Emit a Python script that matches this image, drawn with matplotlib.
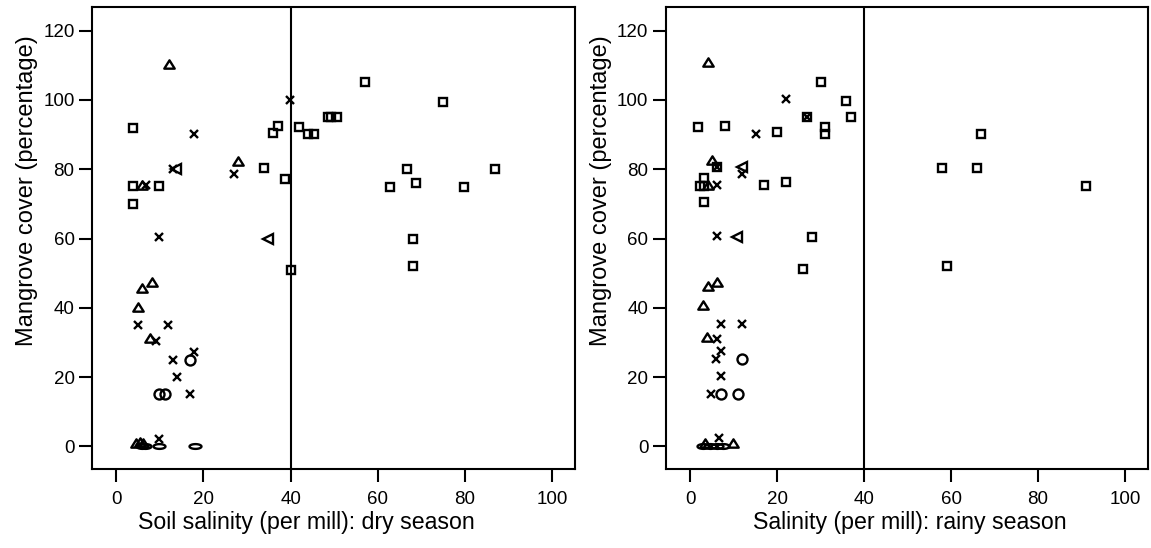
import numpy as np
import matplotlib
matplotlib.use("Agg")
from matplotlib import pyplot as plt
from matplotlib.path import Path

plt.rcParams['font.family'] = ['Liberation Sans', 'DejaVu Sans']

# ---- dry season (soil salinity) ----
dry_sq_x = [3.8, 35.9, 37.1, 41.9, 44.0, 45.3, 48.7, 49.3, 50.6, 33.9, 38.8, 3.8, 9.8, 3.8,
            40.0, 57.0, 75.0, 66.8, 86.9, 62.8, 68.9, 79.9, 68.0, 68.0]
dry_sq_y = [92.0, 90.5, 92.5, 92.1, 90.1, 90.1, 95.0, 95.0, 95.0, 80.5, 77.1, 75.2, 75.2, 70.0,
            50.9, 105.1, 99.5, 80.0, 80.0, 75.0, 76.1, 75.0, 60.0, 52.1]
dry_tri_x = [12.0, 28.0, 6.0, 6.0, 8.1, 5.0, 7.7, 4.6, 5.4, 6.1]
dry_tri_y = [110.4, 82.4, 75.4, 45.8, 47.4, 40.2, 31.2, 1.1, 1.3, 1.0]
dry_x_x = [17.9, 39.8, 26.9, 12.9, 6.9, 9.8, 5.0, 11.9, 9.1, 17.9, 12.9, 13.9, 17.0, 9.8]
dry_x_y = [90.1, 100.0, 78.6, 80.0, 75.4, 60.4, 34.9, 34.9, 30.5, 27.1, 25.0, 20.0, 15.1, 2.2]
dry_lt_x = [13.7, 34.7]
dry_lt_y = [80.0, 60.0]
dry_ci_x = [17.0, 9.8, 11.2]
dry_ci_y = [25.0, 15.1, 15.1]
dry_el_x = [9.8, 18.0, 5.8, 6.6]
dry_el_y = [0.0, 0.0, 0.0, 0.0]

# ---- rainy season ----
wet_sq_x = [30.0, 35.9, 37.1, 26.9, 1.9, 8.0, 20.0, 31.0, 31.0, 6.1, 3.1, 2.3, 3.1, 17.0,
            22.0, 3.1, 28.1, 67.0, 58.0, 66.0, 91.1, 59.1, 26.0]
wet_sq_y = [105.3, 99.8, 95.2, 95.2, 92.3, 92.6, 90.7, 92.3, 90.1, 80.6, 77.4, 75.2, 75.2, 75.5,
            76.2, 70.4, 60.4, 90.2, 80.3, 80.3, 75.2, 52.2, 51.2]
wet_tri_x = [4.1, 5.0, 4.1, 4.1, 6.1, 2.9, 3.8, 3.4, 9.9]
wet_tri_y = [110.9, 82.7, 75.4, 46.2, 47.5, 40.7, 31.6, 1.1, 1.1]
wet_x_x = [22.0, 15.1, 26.9, 6.1, 11.9, 6.3, 6.1, 7.0, 12.0, 6.1, 7.0, 6.0, 7.0, 4.8, 6.7]
wet_x_y = [100.2, 90.1, 95.2, 80.6, 78.7, 75.5, 60.6, 35.4, 35.4, 30.9, 27.5, 25.3, 20.3, 15.2, 2.5]
wet_lt_x = [11.9, 10.9]
wet_lt_y = [80.6, 60.4]
wet_ci_x = [12.0, 7.0, 11.1]
wet_ci_y = [25.3, 15.2, 15.2]
wet_el_x = [3.0, 4.5, 6.2, 7.6]
wet_el_y = [0.0, 0.0, 0.0, 0.0]

xticks = [0, 20, 40, 60, 80, 100]
yticks = [0, 20, 40, 60, 80, 100, 120]

# flat triangle and ellipse markers
tri = Path([(0, 0.8), (-1, -0.8), (1, -0.8), (0, 0.8)], closed=True)
t = np.linspace(0, 2 * np.pi, 60)
ell = Path(np.column_stack([np.cos(t), 0.4 * np.sin(t)]), closed=True)


def panel(ax, sq, tr, xx, lt, ci, el, xlabel, xlab_pos):
    kw = dict(linestyle='none', markerfacecolor='none', markeredgecolor='black', markeredgewidth=1.7)
    ax.plot(sq[0], sq[1], marker='s', markersize=6.2, **kw)
    ax.plot(tr[0], tr[1], marker=tri, markersize=7.5, **kw)
    ax.plot(xx[0], xx[1], marker='x', markersize=5.5, **kw)
    ax.plot(lt[0], lt[1], marker='<', markersize=6.5, **kw)
    ax.plot(ci[0], ci[1], marker='o', markersize=7.2, **kw)
    ax.plot(el[0], el[1], marker=ell, markersize=8.6, **kw)
    ax.axvline(40, color='black', linewidth=1.5)

    ax.set_xlim(-5.6, 105.3)
    ax.set_ylim(-6.4, 126.8)
    ax.set_xticks(xticks)
    ax.set_yticks(yticks)
    ax.tick_params(direction='out', length=9.5, width=1.5, labelsize=13.5)
    ax.tick_params(axis='x', pad=7)
    ax.tick_params(axis='y', pad=3)
    for s in ax.spines.values():
        s.set_linewidth(1.5)
    ax.set_xlabel(xlabel, fontsize=16.7)
    ax.set_ylabel('Mangrove cover (percentage)', fontsize=17)
    ax.xaxis.set_label_coords(xlab_pos, -0.092)
    ax.yaxis.set_label_coords(-0.112, 0.603)


fig = plt.figure(figsize=(11.51, 5.48), dpi=100)
ax1 = fig.add_axes([0.0799, 0.145, 0.4197, 0.842])
ax2 = fig.add_axes([0.5784, 0.145, 0.4190, 0.842])

panel(ax1, (dry_sq_x, dry_sq_y), (dry_tri_x, dry_tri_y), (dry_x_x, dry_x_y),
      (dry_lt_x, dry_lt_y), (dry_ci_x, dry_ci_y), (dry_el_x, dry_el_y),
      'Soil salinity (per mill): dry season', 0.443)
panel(ax2, (wet_sq_x, wet_sq_y), (wet_tri_x, wet_tri_y), (wet_x_x, wet_x_y),
      (wet_lt_x, wet_lt_y), (wet_ci_x, wet_ci_y), (wet_el_x, wet_el_y),
      'Salinity (per mill): rainy season', 0.5065)

fig.savefig('out.png', dpi=100)
